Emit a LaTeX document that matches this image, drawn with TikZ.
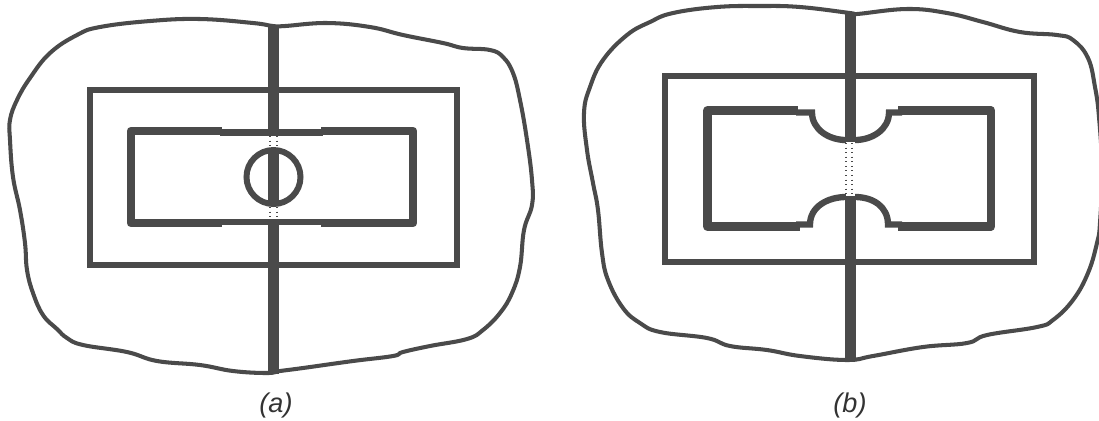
\documentclass[tikz,border=0pt]{standalone}
\usepackage{fontspec}
\setmainfont{Liberation Sans}
\definecolor{inkgray}{HTML}{4A4A4A}
\tikzset{
  blobline/.style={inkgray, line width=1.15pt, line join=round},
  barline/.style={inkgray, line width=3.4pt},
  frameline/.style={inkgray, line width=1.8pt, line join=miter},
  fatline/.style={inkgray, line width=2.5pt, line join=round},
  slimline/.style={inkgray, line width=1.8pt},
  dotline/.style={inkgray, line width=.3pt, densely dotted},
  caption/.style={inner sep=0pt, font=\fontsize{7.7pt}{9pt}\selectfont\itshape, text=black!80}
}
\begin{document}
\begin{tikzpicture}[x=.01cm,y=-.01cm]
  \useasboundingbox (0,0) rectangle (1099,420);
  % left figure
  \draw [blobline] plot [smooth cycle, tension=.7] coordinates {
    (273,26) (253,23) (200,19) (150,21) (100,27) (77,35) (50,53) (30,78) (17,100)
    (10,120) (10,140) (13,177) (20,210) (25,243) (27,270) (33,293) (43,315) (57,329)
    (67,338) (83,345) (127,352) (157,361) (200,365) (233,371) (267,373) (280,371)
    (303,368) (353,361) (393,356) (403,352) (430,346) (467,339) (483,330) (500,313)
    (512,293) (520,267) (524,230) (532,205) (532,180) (527,140) (520,100) (513,73)
    (503,57) (490,50) (463,48) (443,43) (403,35) (370,27) (327,23) (285,26)};
  \draw [frameline]  (273,90) -- (90,90) -- (90,265) -- (457,265) -- (457,90) -- cycle;
  \draw [fatline]    (222,131) -- (131,131) -- (131,223) -- (222,223);
  \draw [fatline]    (321,131) -- (413,131) -- (413,223) -- (321,223);
  \draw [slimline]   (220,132.5) -- (323,132.5);
  \draw [slimline]   (220,222) -- (323,222);
  \draw [barline]    (273.5,25) -- (273.5,134);
  \draw [barline]    (273.5,221) -- (273.5,374);
  \draw [barline]    (273.5,148) -- (273.5,206);
  \draw [inkgray, line width=1.7pt] (273.5,177) circle [radius=27];
  \draw [dotline]    (270,136) -- (270,147);
  \draw [dotline]    (277,136) -- (277,147);
  \draw [dotline]    (270,207) -- (270,219);
  \draw [dotline]    (277,207) -- (277,219);
  \node [caption] (lab a) at (276,405) {(a)};
  % right figure
  \draw [blobline] plot [smooth cycle, tension=.7] coordinates {
    (850,13) (800,7) (760,6) (717,7) (673,13) (650,22) (627,35) (603,60) (590,87)
    (584,113) (587,150) (593,183) (598,210) (602,253) (608,280) (623,308) (640,323)
    (660,332) (707,338) (730,346) (767,350) (800,356) (847,360) (873,356) (923,347)
    (967,343) (987,335) (1037,327) (1053,320) (1073,300) (1088,273) (1097,243)
    (1100,223) (1102,170) (1099,117) (1095,87) (1088,58) (1073,40) (1057,35) (1020,32)
    (983,22) (947,13) (907,9) (857,14)};
  \draw [frameline]  (850,76) -- (665,76) -- (665,262) -- (1034,262) -- (1034,76) -- cycle;
  \draw [fatline]    (798,110.5) -- (707.5,110.5) -- (707.5,226.5) -- (800,226.5);
  \draw [fatline]    (898,110.5) -- (991,110.5) -- (991,226.5) -- (898,226.5);
  \draw [slimline]   (796,112.5) -- (812,112.5) .. controls +(0,17) and +(-17,0) .. (846,140);
  \draw [slimline]   (902,112.5) -- (889,112.5) .. controls +(0,17) and +(17,0) .. (855,140);
  \draw [slimline]   (796,224.5) -- (810,224.5) .. controls +(0,-18) and +(-18,0) .. (846,197);
  \draw [slimline]   (902,224.5) -- (888,224.5) .. controls +(0,-18) and +(18,0) .. (855,197);
  \draw [barline]    (850.5,13) -- (850.5,142);
  \draw [barline]    (850.5,196) -- (850.5,360);
  \draw [dotline]    (846,143) -- (846,195);
  \draw [dotline]    (852,143) -- (852,195);
  \node [caption] (lab b) at (850,405) {(b)};
\end{tikzpicture}
\end{document}
